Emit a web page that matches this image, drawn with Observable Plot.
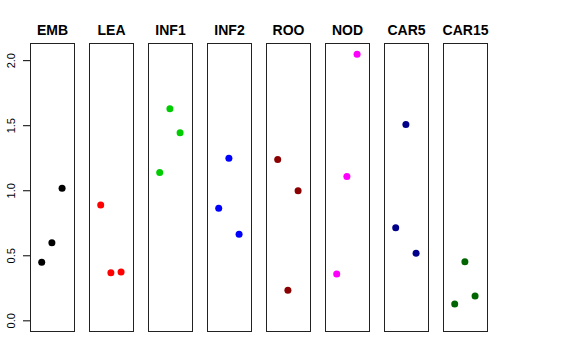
<!DOCTYPE html>
<html><head><meta charset="utf-8">
<script src="https://cdn.jsdelivr.net/npm/d3@7"></script>
<script src="https://cdn.jsdelivr.net/npm/@observablehq/plot@0.6"></script>
<style>body{margin:0;background:#fff} svg{display:block}</style>
</head><body><div id="chart"></div>
<script>
const tissues = ["EMB","LEA","INF1","INF2","ROO","NOD","CAR5","CAR15"];
const EMB = [0.45, 0.60, 1.02];
const LEA = [0.89, 0.37, 0.375];
const INF1 = [1.14, 1.63, 1.445];
const INF2 = [0.865, 1.25, 0.665];
const ROO = [1.24, 0.235, 1.00];
const NOD = [0.36, 1.11, 2.05];
const CAR5 = [0.715, 1.51, 0.52];
const CAR15 = [0.13, 0.455, 0.19];
const replicates = [1, 2, 3];
const colors = ["#000000","#FF0000","#00CD00","#0000FF","#8B0000","#FF00FF","#00008B","#006400"];
const yTicks = [0, 0.5, 1, 1.5, 2];

const series = [EMB, LEA, INF1, INF2, ROO, NOD, CAR5, CAR15];
const rows = tissues.flatMap((t, i) => series[i].map((v, j) => ({tissue: t, rep: replicates[j], value: v})));

const chart = Plot.plot({
  width: 576, height: 360,
  marginLeft: 29, marginRight: 88, marginTop: 43, marginBottom: 29,
  style: {fontFamily: "'Liberation Sans', Arial, sans-serif", background: "#fff", color: "#000"},
  fx: {domain: tissues, paddingInner: 0.247, paddingOuter: 0, axis: null},
  x: {domain: [-0.1, 4.22], axis: null},
  y: {domain: [-0.082, 2.132], axis: null},
  color: {type: "ordinal", domain: tissues, range: colors},
  marks: [
    Plot.frame({stroke: "#222"}),
    Plot.text(tissues, {fx: d => d, frameAnchor: "top", dy: -9, lineAnchor: "bottom", text: d => d, fontWeight: "bold", fontSize: 14}),
    Plot.axisY({ticks: yTicks, tickSize: 7, tickFormat: () => "", label: null, anchor: "left"}),
    Plot.text(yTicks, {fx: () => "EMB", y: d => d, frameAnchor: "left", dx: -16, rotate: -90, lineAnchor: "bottom", textAnchor: "middle", text: d => d.toFixed(1), fontSize: 11}),
    Plot.dot(rows, {fx: "tissue", x: "rep", y: "value", fill: "tissue", r: 3.5})
  ]
});
document.getElementById("chart").appendChild(chart);
</script>
</body></html>
